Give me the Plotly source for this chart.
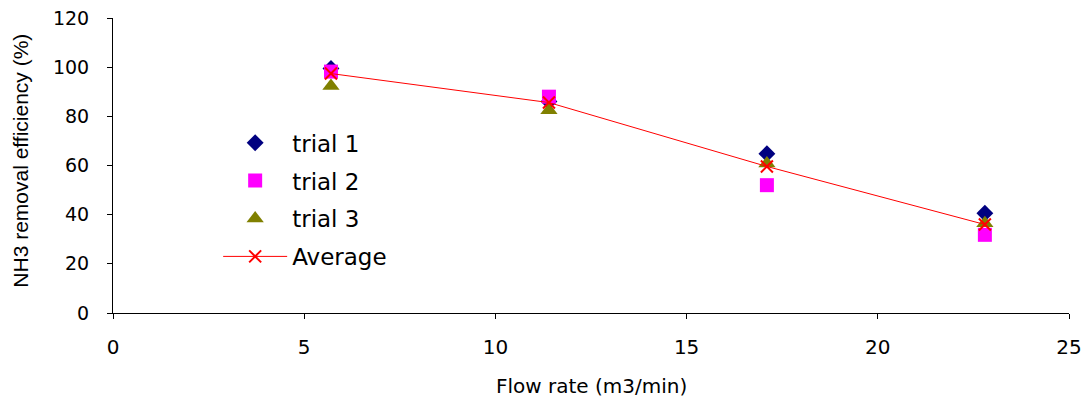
import plotly.graph_objects as go

flow_rate = [5.7, 11.4, 17.1, 22.8]
trial_1 = [99.5, 86.0, 64.8, 40.6]
trial_2 = [98.2, 88.0, 52.0, 31.8]
trial_3 = [92.3, 82.5, 60.8, 36.5]
average = [97.4, 85.6, 59.6, 36.0]

x_ticks = [0, 5, 10, 15, 20, 25]
y_ticks = [0, 20, 40, 60, 80, 100, 120]

x_title = "Flow rate (m3/min)"
y_title = "NH3 removal efficiency (%)"

font_family = "DejaVu Sans, Liberation Sans, sans-serif"
arial = "Liberation Sans, Arial, sans-serif"

fig = go.Figure()
fig.add_trace(go.Scatter(x=flow_rate, y=trial_1, mode="markers", name="trial 1", legendgroup="g1",
                         marker=dict(symbol="diamond", size=13, color="#000080")))
fig.add_trace(go.Scatter(x=flow_rate, y=trial_2, mode="markers", name="trial 2", legendgroup="g2",
                         marker=dict(symbol="square", size=14, color="#FF00FF")))
fig.add_trace(go.Scatter(x=flow_rate, y=trial_3, mode="markers", name="trial 3", legendgroup="g3",
                         marker=dict(symbol="triangle-up", size=15, color="#808000")))
fig.add_trace(go.Scatter(x=flow_rate, y=average, mode="lines+markers", name="Average", legendgroup="g4",
                         line=dict(color="#FF0000", width=1),
                         marker=dict(symbol="x-thin", size=12, color="#FF0000",
                                     line=dict(color="#FF0000", width=2))))

fig.update_layout(
    width=1086, height=402,
    margin=dict(l=113, r=17, t=18, b=89),
    paper_bgcolor="white", plot_bgcolor="white",
    font=dict(family=font_family, color="black"),
    showlegend=True,
    legend=dict(x=0.11, y=0.65, xanchor="left", yanchor="top",
                bgcolor="rgba(0,0,0,0)", font=dict(size=23, family=font_family),
                tracegroupgap=5, itemwidth=64),
    annotations=[
        dict(text=x_title, xref="paper", yref="paper", x=0.5, y=-0.2475,
             xanchor="center", yanchor="middle", showarrow=False,
             font=dict(size=20, family=font_family)),
        dict(text=y_title, xref="paper", yref="paper", x=-0.0977, y=0.515,
             xanchor="center", yanchor="middle", showarrow=False, textangle=-90,
             font=dict(size=21, family=arial)),
    ],
)
fig.update_xaxes(range=[0, 25], tickvals=x_ticks, showgrid=False, zeroline=False,
                 automargin=False,
                 showline=True, linecolor="black", linewidth=1,
                 ticks="outside", ticklen=5, tickcolor="black",
                 tickfont=dict(size=20), ticklabelstandoff=11)
fig.update_yaxes(range=[0, 120], tickvals=y_ticks, showgrid=False, zeroline=False,
                 automargin=False,
                 showline=True, linecolor="black", linewidth=1,
                 ticks="outside", ticklen=5, tickcolor="black",
                 tickfont=dict(size=19), ticklabelstandoff=14)

fig.write_html("out.html")
